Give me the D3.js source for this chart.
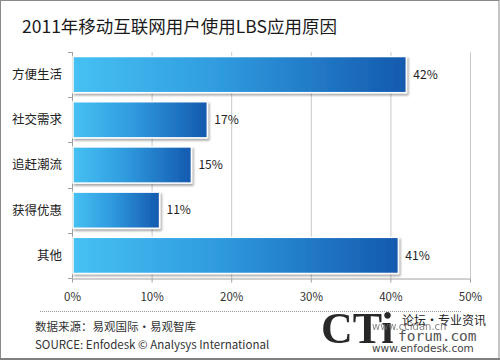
<!DOCTYPE html>
<html><head><meta charset="utf-8">
<script src="https://cdn.jsdelivr.net/npm/d3@7"></script>
<style>body{margin:0;background:#fff}svg{display:block}</style>
</head><body>
<script>
const categories = ["方便生活","社交需求","追赶潮流","获得优惠","其他"];
const values = [42,17,15,11,41];
const tickValues = [0,10,20,30,40,50];
const titleText = "2011年移动互联网用户使用LBS应用原因";
const sourceCN = "数据来源：易观国际·易观智库";
const sourceEN = "SOURCE: Enfodesk © Analysys International";

const W=500,H=360;
const svg=d3.select("body").append("svg").attr("width",W).attr("height",H);
const cjk="'Noto Sans CJK SC','Noto Sans',sans-serif";

svg.append("rect").attr("x",0.5).attr("y",0.5).attr("width",W-1.5).attr("height",H-1.5)
  .attr("fill","#fff").attr("stroke","#8a8a8a").attr("stroke-width",1);
svg.append("line").attr("x1",0).attr("x2",W).attr("y1",H-1).attr("y2",H-1).attr("stroke","#808080").attr("stroke-width",2);

const defs=svg.append("defs");
const g=defs.append("linearGradient").attr("id","bg").attr("x1","0").attr("x2","1").attr("y1","0").attr("y2","0");
g.append("stop").attr("offset","0").attr("stop-color","#46c1f3");
g.append("stop").attr("offset","0.45").attr("stop-color","#2f9ade");
g.append("stop").attr("offset","1").attr("stop-color","#1459ae");
const f=defs.append("filter").attr("id","sh").attr("x","-5%").attr("y","-20%").attr("width","115%").attr("height","150%");
f.append("feDropShadow").attr("dx",1.5).attr("dy",2).attr("stdDeviation",1.2).attr("flood-color","#000").attr("flood-opacity",0.35);

svg.append("text").attr("x",22).attr("y",33).attr("font-family",cjk).attr("font-size",17.5)
  .attr("fill","#1a1a1a").text(titleText);

const x0=72,x1=470,yTop=52,yBot=278;
const x=d3.scaleLinear().domain([0,50]).range([x0,x1]);
const y=d3.scaleBand().domain(categories).range([yTop,yBot]).paddingInner(0.2).paddingOuter(0.1);

svg.append("g").selectAll("line").data(tickValues.filter(d=>d>0)).join("line")
  .attr("x1",d=>x(d)+0.5).attr("x2",d=>x(d)+0.5).attr("y1",yTop).attr("y2",yBot)
  .attr("stroke","#c8c8c8").attr("stroke-width",1);

const xAxis=svg.append("g").attr("transform",`translate(0,${yBot+0.5})`)
  .call(d3.axisBottom(x).tickValues(tickValues).tickFormat(d=>d+"%").tickSize(4).tickSizeOuter(0));
xAxis.select(".domain").attr("stroke","#a0a0a0");
xAxis.selectAll(".tick line").attr("stroke","#a0a0a0");
xAxis.selectAll("text").attr("font-family",cjk).attr("font-size",11.5).attr("fill","#333").attr("dy",0).attr("y",22);

const bandEdges=d3.range(categories.length+1).map(i=>yTop+i*(yBot-yTop)/categories.length);
svg.append("line").attr("x1",x0+0.5).attr("x2",x0+0.5).attr("y1",yTop).attr("y2",yBot).attr("stroke","#a0a0a0");
svg.append("g").selectAll("line").data(bandEdges).join("line")
  .attr("x1",x0-4).attr("x2",x0+0.5).attr("y1",d=>Math.round(d)+0.5).attr("y2",d=>Math.round(d)+0.5).attr("stroke","#a0a0a0");

svg.append("g").selectAll("text").data(categories).join("text")
  .attr("x",62).attr("y",d=>y(d)+y.bandwidth()/2).attr("dy","0.35em").attr("text-anchor","end")
  .attr("font-family",cjk).attr("font-size",12.5).attr("fill","#222").text(d=>d);

svg.append("g").selectAll("rect").data(values).join("rect")
  .attr("x",x(0)+1).attr("y",(d,i)=>y(categories[i])).attr("width",d=>x(d)-x(0)-1)
  .attr("height",y.bandwidth()).attr("fill","url(#bg)").attr("stroke","#fff").attr("stroke-width",1.5)
  .attr("filter","url(#sh)");

svg.append("g").selectAll("text").data(values).join("text")
  .attr("x",d=>x(d)+7).attr("y",(d,i)=>y(categories[i])+y.bandwidth()/2).attr("dy","0.35em")
  .attr("font-family",cjk).attr("font-size",12).attr("fill","#222").text(d=>d+"%");

svg.append("line").attr("x1",40).attr("x2",462).attr("y1",311.5).attr("y2",311.5)
  .attr("stroke","#999").attr("stroke-dasharray","1,1");

svg.append("text").attr("x",35).attr("y",331).attr("font-family",cjk).attr("font-size",11.5).attr("fill","#333").text(sourceCN);
svg.append("text").attr("x",35).attr("y",349).attr("font-family",cjk).attr("font-size",11.5).attr("fill","#333").text(sourceEN);

// watermark
const wm=svg.append("g");
wm.append("text").attr("x",321).attr("y",343).attr("font-family","'Liberation Serif','DejaVu Serif',serif")
  .attr("font-weight","bold").attr("font-size",44).attr("fill","#111").attr("opacity",0.9).text("CTi");
wm.append("text").attr("x",402).attr("y",325).attr("font-family",cjk).attr("font-size",12).attr("fill","#222").text("论坛·专业资讯");
wm.append("text").attr("x",372).attr("y",330).attr("font-family","'DejaVu Sans',sans-serif").attr("font-size",10).attr("fill","#666").attr("opacity",0.8).text("www.ccidan.cn");
wm.append("text").attr("x",398).attr("y",341).attr("font-family","'DejaVu Sans Mono',monospace").attr("font-size",14.5).attr("fill","#555").text("forum.com");
wm.append("text").attr("x",372).attr("y",352).attr("font-family","'DejaVu Sans',sans-serif").attr("font-size",10.5).attr("fill","#444").text("www.enfodesk.com");
</script>
</body></html>
